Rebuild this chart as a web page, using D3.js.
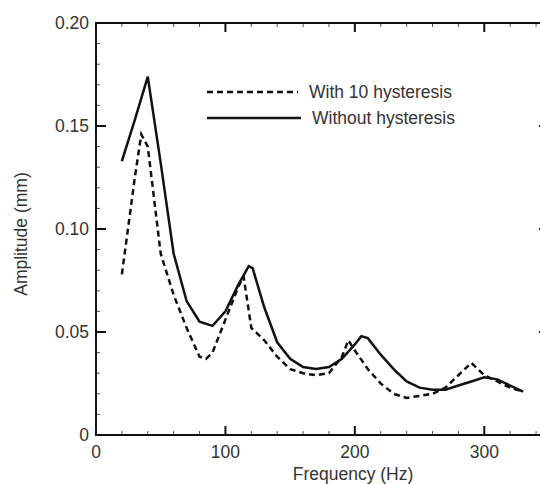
<!DOCTYPE html><html><head><meta charset="utf-8"></head>
<script src="https://cdn.jsdelivr.net/npm/d3@7"></script>
<body style="margin:0;background:#fff">
<svg id="chart"></svg>
<script>

var xTicks = [0, 100, 200, 300],
    yTicks = [0, 0.05, 0.10, 0.15, 0.20],
    yTickLabels = ["0", "0.05", "0.10", "0.15", "0.20"];

// Without hysteresis (solid)
var solidFreq = [20, 30, 40, 50, 60, 70, 80, 90, 100, 110, 118, 121, 130, 140, 150, 160, 170, 180, 190, 200, 205, 210, 220, 230, 240, 250, 260, 270, 280, 290, 300, 310, 320, 330];
var solidAmp  = [0.133, 0.153, 0.174, 0.132, 0.088, 0.065, 0.055, 0.053, 0.060, 0.073, 0.082, 0.081, 0.062, 0.045, 0.037, 0.033, 0.032, 0.033, 0.037, 0.044, 0.048, 0.047, 0.039, 0.032, 0.026, 0.023, 0.022, 0.022, 0.024, 0.026, 0.028, 0.027, 0.024, 0.021];

// With 10 hysteresis (dashed)
var dashFreq = [20, 30, 35, 40, 50, 60, 70, 80, 85, 90, 100, 110, 114, 120, 130, 140, 150, 160, 170, 180, 190, 195, 200, 210, 220, 230, 240, 250, 260, 270, 280, 290, 300, 310, 320, 330];
var dashAmp  = [0.078, 0.125, 0.146, 0.140, 0.088, 0.068, 0.052, 0.038, 0.037, 0.040, 0.056, 0.072, 0.077, 0.052, 0.046, 0.038, 0.032, 0.030, 0.029, 0.030, 0.038, 0.046, 0.041, 0.032, 0.025, 0.020, 0.018, 0.019, 0.020, 0.023, 0.029, 0.035, 0.029, 0.026, 0.023, 0.021];

var seriesNames = ["With 10 hysteresis", "Without hysteresis"];

var width = 540, height = 484;
var padL = 96, padR = 549, padT = 23, padB = 435;
var fs = "17.5px";

var svg = d3.select("#chart")
    .attr("width", width)
    .attr("height", height)
    .style("font-family", "Liberation Sans, Arial, sans-serif");

var x = d3.scaleLinear().domain([0, 350]).range([padL, padR]);
var y = d3.scaleLinear().domain([0, 0.20]).range([padB, padT]);

var ink = "#111";

// minor ticks
var xMinor = d3.range(0, 351, 20).filter(function(d) { return d % 100 != 0; });
var yMinor = d3.range(0, 0.2001, 0.01).filter(function(d) { return Math.abs(Math.round(d * 100) % 5) != 0; });

// bottom + top ticks
[padB, padT].forEach(function(yy, k) {
  var dir = k == 0 ? -1 : 1;
  svg.selectAll(null).data(xTicks).enter().append("line")
    .attr("x1", function(d) { return x(d); }).attr("x2", function(d) { return x(d); })
    .attr("y1", yy).attr("y2", yy + dir * 9)
    .attr("stroke", ink).attr("stroke-width", 2);
  svg.selectAll(null).data(xMinor).enter().append("line")
    .attr("x1", function(d) { return x(d); }).attr("x2", function(d) { return x(d); })
    .attr("y1", yy).attr("y2", yy + dir * 4)
    .attr("stroke", "#555").attr("stroke-width", 1);
});

// left + right ticks
[padL, padR].forEach(function(xx, k) {
  var dir = k == 0 ? 1 : -1;
  svg.selectAll(null).data(yTicks).enter().append("line")
    .attr("y1", function(d) { return y(d); }).attr("y2", function(d) { return y(d); })
    .attr("x1", xx).attr("x2", xx + dir * 10)
    .attr("stroke", ink).attr("stroke-width", 2);
  svg.selectAll(null).data(yMinor).enter().append("line")
    .attr("y1", function(d) { return y(d); }).attr("y2", function(d) { return y(d); })
    .attr("x1", xx).attr("x2", xx + dir * 4)
    .attr("stroke", "#555").attr("stroke-width", 1);
});

// frame
svg.append("rect")
  .attr("x", padL).attr("y", padT)
  .attr("width", padR - padL).attr("height", padB - padT)
  .attr("fill", "none").attr("stroke", ink).attr("stroke-width", 2);

// tick labels
svg.selectAll(".xlab").data(xTicks).enter().append("text")
  .attr("x", function(d) { return x(d); })
  .attr("y", padB + 23)
  .attr("text-anchor", "middle")
  .style("font-size", fs).attr("fill", "#333")
  .text(function(d) { return d; });

svg.selectAll(".ylab").data(yTicks).enter().append("text")
  .attr("x", padL - 7)
  .attr("y", function(d) { return y(d) + 6; })
  .attr("text-anchor", "end")
  .style("font-size", fs).attr("fill", "#333")
  .text(function(d, i) { return yTickLabels[i]; });

// axis titles
svg.append("text")
  .attr("x", 353).attr("y", 480)
  .attr("text-anchor", "middle")
  .style("font-size", fs).attr("fill", "#333")
  .text("Frequency (Hz)");

svg.append("text")
  .attr("transform", "translate(27,234) rotate(-90)")
  .attr("text-anchor", "middle")
  .style("font-size", fs).attr("fill", "#333")
  .text("Amplitude (mm)");

// lines
var line = d3.line()
  .x(function(d) { return x(d[0]); })
  .y(function(d) { return y(d[1]); });

svg.append("path")
  .datum(d3.zip(dashFreq, dashAmp))
  .attr("d", line)
  .attr("fill", "none").attr("stroke", ink)
  .attr("stroke-width", 2.5).attr("stroke-dasharray", "6,4");

svg.append("path")
  .datum(d3.zip(solidFreq, solidAmp))
  .attr("d", line)
  .attr("fill", "none").attr("stroke", ink)
  .attr("stroke-width", 2.5);

// legend
var legend = svg.append("g");
legend.selectAll("line").data(seriesNames).enter().append("line")
  .attr("x1", 207).attr("x2", function(d, i) { return i == 0 ? 298 : 301; })
  .attr("y1", function(d, i) { return 92 + i * 26; })
  .attr("y2", function(d, i) { return 92 + i * 26; })
  .attr("stroke", ink).attr("stroke-width", 2.5)
  .attr("stroke-dasharray", function(d, i) { return i == 0 ? "6,4" : null; });

legend.selectAll("text").data(seriesNames).enter().append("text")
  .attr("x", function(d, i) { return i == 0 ? 309 : 312; })
  .attr("y", function(d, i) { return 98 + i * 26; })
  .style("font-size", fs).attr("fill", "#333")
  .text(function(d) { return d; });

</script>
</body></html>
